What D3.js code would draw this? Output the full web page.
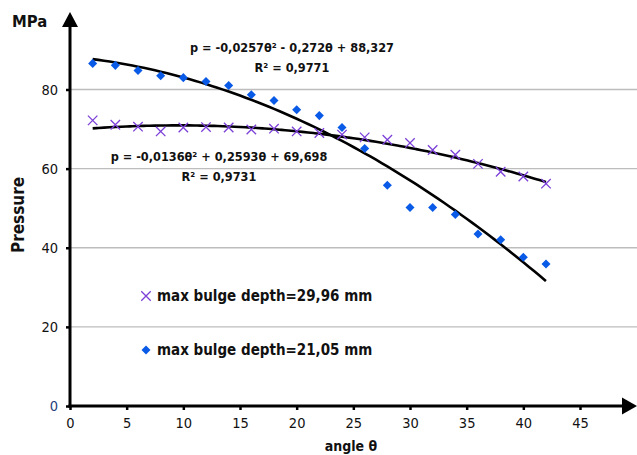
<!DOCTYPE html>
<html>
<head>
<meta charset="utf-8">
<script src="https://cdn.jsdelivr.net/npm/d3@7"></script>
<style>
  body { margin: 0; background: #fff; }
  text { font-family: "Liberation Sans Narrow", "DejaVu Sans Condensed", "Open Sans", sans-serif; fill: #111; }
</style>
</head>
<body>
<div id="chart"></div>
<script>
const angles = [2, 4, 6, 8, 10, 12, 14, 16, 18, 20, 22, 24, 26, 28, 30, 32, 34, 36, 38, 40, 42];
// max bulge depth = 29,96 mm (crosses)
const pressure2996 = [72.2, 71.1, 70.6, 69.4, 70.4, 70.5, 70.4, 69.9, 70.1, 69.4, 69.0, 68.6, 67.9, 67.3, 66.5, 64.7, 63.5, 61.2, 59.2, 58.0, 56.2];
// max bulge depth = 21,05 mm (diamonds)
const pressure2105 = [86.6, 86.1, 84.8, 83.5, 83.0, 82.0, 81.0, 78.7, 77.2, 74.9, 73.4, 70.4, 65.1, 55.8, 50.2, 50.2, 48.4, 43.5, 42.0, 37.6, 35.9];
// trend line coefficients [a, b, c] for p = a*θ² + b*θ + c
const fit2105 = [-0.0257, -0.272, 88.327];
const fit2996 = [-0.0136, 0.2593, 69.698];
const xTicks = [0, 5, 10, 15, 20, 25, 30, 35, 40, 45];
const yTicks = [0, 20, 40, 60, 80];

const W = 637, H = 455;
const svg = d3.select('#chart').append('svg').attr('width', W).attr('height', H);

const x = d3.scaleLinear().domain([0, 45]).range([70, 580]);
const y = d3.scaleLinear().domain([0, 80]).range([406, 89.5]);

// grid
svg.append('g').selectAll('line').data(yTicks.filter(d => d > 0)).enter().append('line')
  .attr('x1', x(0)).attr('x2', 637)
  .attr('y1', d => y(d)).attr('y2', d => y(d))
  .attr('stroke', '#bdbdbd').attr('stroke-width', 1.3);

// y axis ticks + labels
const yAxis = svg.append('g').attr('transform', `translate(${x(0)},0)`)
  .call(d3.axisLeft(y).tickValues(yTicks).tickSize(4).tickPadding(8));
yAxis.select('.domain').remove();
yAxis.selectAll('line').attr('stroke', '#000').attr('stroke-width', 2.5);
yAxis.selectAll('text').attr('font-size', 14.5).style('fill', d => d === 0 ? '#1f3f7a' : '#111');

// x axis ticks + labels
const xAxis = svg.append('g').attr('transform', `translate(0,${y(0)})`)
  .call(d3.axisBottom(x).tickValues(xTicks).tickSize(4).tickPadding(8));
xAxis.select('.domain').remove();
xAxis.selectAll('line').attr('stroke', '#000').attr('stroke-width', 2.5);
xAxis.selectAll('text').attr('font-size', 14.5).style('fill', '#111');

// axis lines with arrows
svg.append('line').attr('x1', x(0)).attr('x2', x(0)).attr('y1', y(0) + 1.5).attr('y2', 26)
  .attr('stroke', '#000').attr('stroke-width', 3);
svg.append('path').attr('d', `M${x(0) - 8},27 L${x(0)},12 L${x(0) + 8},27 Z`).attr('fill', '#000');
svg.append('line').attr('x1', x(0) - 1.5).attr('x2', 624).attr('y1', y(0)).attr('y2', y(0))
  .attr('stroke', '#000').attr('stroke-width', 3);
svg.append('path').attr('d', `M622,${y(0) - 8.5} L637,${y(0)} L622,${y(0) + 8.5} Z`).attr('fill', '#000');

// trend lines
const quad = (c) => (t) => c[0] * t * t + c[1] * t + c[2];
const line = d3.line().x(d => x(d[0])).y(d => y(d[1])).curve(d3.curveMonotoneX);
[fit2105, fit2996].forEach(c => {
  const f = quad(c);
  const pts = d3.range(angles[0], angles[angles.length - 1] + 0.01, 0.5).map(t => [t, f(t)]);
  svg.append('path').attr('d', line(pts)).attr('fill', 'none')
    .attr('stroke', '#000').attr('stroke-width', 2.6);
});

// diamonds
const diamond = d3.symbol().type(d3.symbolDiamond2).size(52);
svg.append('g').selectAll('path').data(angles).enter().append('path')
  .attr('d', diamond)
  .attr('transform', (d, i) => `translate(${x(d)},${y(pressure2105[i])})`)
  .attr('fill', '#0a5ae8');

// crosses
const cross = d3.symbol().type(d3.symbolX).size(60);
svg.append('g').selectAll('path').data(angles).enter().append('path')
  .attr('d', cross)
  .attr('transform', (d, i) => `translate(${x(d)},${y(pressure2996[i])})`)
  .attr('fill', 'none').attr('stroke', '#7b3fd8').attr('stroke-width', 1.3);

// equations
const eq = svg.append('g').attr('font-weight', 'bold').attr('font-size', 12.6);
eq.append('text').attr('x', 292).attr('y', 52).attr('text-anchor', 'middle').text('p = -0,0257θ² - 0,272θ + 88,327');
eq.append('text').attr('x', 292).attr('y', 72).attr('text-anchor', 'middle').text('R² = 0,9771');
eq.append('text').attr('x', 219).attr('y', 161).attr('text-anchor', 'middle').text('p = -0,0136θ² + 0,2593θ + 69,698');
eq.append('text').attr('x', 219).attr('y', 181).attr('text-anchor', 'middle').text('R² = 0,9731');

// legend
svg.append('path').attr('d', cross).attr('transform', 'translate(146,296)')
  .attr('fill', 'none').attr('stroke', '#7b3fd8').attr('stroke-width', 1.3);
svg.append('text').attr('x', 157).attr('y', 301).attr('font-weight', 'bold').attr('font-size', 15)
  .text('max bulge depth=29,96 mm');
svg.append('path').attr('d', diamond).attr('transform', 'translate(146,350)').attr('fill', '#0a5ae8');
svg.append('text').attr('x', 157).attr('y', 355).attr('font-weight', 'bold').attr('font-size', 15)
  .text('max bulge depth=21,05 mm');

// axis titles
svg.append('text').attr('x', 12).attr('y', 27).attr('font-weight', 'bold').attr('font-size', 16.5).text('MPa');
svg.append('text').attr('transform', 'translate(24,215) rotate(-90)').attr('text-anchor', 'middle')
  .attr('font-weight', 'bold').attr('font-size', 17).text('Pressure');
svg.append('text').attr('x', 351).attr('y', 451).attr('text-anchor', 'middle')
  .attr('font-weight', 'bold').attr('font-size', 14).text('angle θ');
</script>
</body>
</html>
